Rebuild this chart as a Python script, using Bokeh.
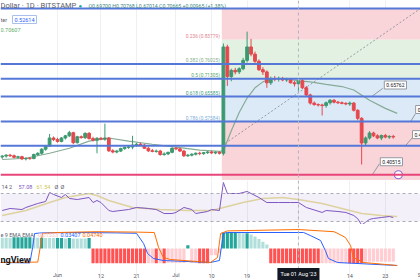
import math
from bokeh.plotting import figure
from bokeh.layouts import column
from bokeh.models import Range1d, Label, FixedTicker, Span, BoxAnnotation
from bokeh.embed import file_html
from bokeh.resources import INLINE
from bokeh.core.properties import value

FONT = "Roboto"

# ---------------- data (day 0 = 1 Jun 2023) ----------------
day = list(range(-14, 86))
open_ = [0.462, 0.465, 0.468, 0.466, 0.461, 0.463, 0.456, 0.458, 0.457, 0.470,
         0.474, 0.487, 0.497, 0.523, 0.518, 0.512, 0.523, 0.530, 0.540, 0.508,
         0.527, 0.524, 0.538, 0.521, 0.516, 0.522, 0.519, 0.523, 0.482, 0.478,
         0.481, 0.489, 0.493, 0.494, 0.500, 0.503, 0.500, 0.490, 0.482, 0.480,
         0.481, 0.470, 0.472, 0.477, 0.490, 0.488, 0.481, 0.466, 0.468, 0.471,
         0.474, 0.473, 0.476, 0.478, 0.475, 0.477, 0.474, 0.815, 0.720, 0.740,
         0.735, 0.745, 0.772, 0.815, 0.792, 0.769, 0.742, 0.735, 0.700, 0.713,
         0.712, 0.714, 0.709, 0.711, 0.700, 0.697, 0.70665, 0.684, 0.661, 0.635,
         0.630, 0.629, 0.627, 0.636, 0.644, 0.638, 0.636, 0.634, 0.632, 0.635,
         0.612, 0.586, 0.507, 0.523, 0.539, 0.530, 0.523, 0.531, 0.526, 0.528]
high = [0.468, 0.471, 0.472, 0.470, 0.466, 0.466, 0.461, 0.462, 0.473, 0.477,
        0.490, 0.500, 0.536, 0.528, 0.524, 0.526, 0.533, 0.546, 0.543, 0.530,
        0.531, 0.541, 0.542, 0.527, 0.526, 0.526, 0.569, 0.526, 0.487, 0.485,
        0.492, 0.496, 0.498, 0.530, 0.507, 0.508, 0.504, 0.495, 0.488, 0.486,
        0.485, 0.477, 0.479, 0.493, 0.495, 0.492, 0.485, 0.472, 0.474, 0.477,
        0.479, 0.478, 0.481, 0.482, 0.480, 0.480, 0.826, 0.822, 0.745, 0.748,
        0.750, 0.780, 0.864, 0.841, 0.800, 0.775, 0.750, 0.740, 0.720, 0.722,
        0.720, 0.719, 0.716, 0.714, 0.706, 0.70768, 0.712, 0.690, 0.665, 0.640,
        0.634, 0.633, 0.640, 0.648, 0.648, 0.642, 0.640, 0.638, 0.640, 0.638,
        0.615, 0.590, 0.528, 0.545, 0.543, 0.535, 0.534, 0.536, 0.532, 0.533]
low = [0.456, 0.460, 0.462, 0.458, 0.457, 0.452, 0.451, 0.453, 0.455, 0.466,
       0.470, 0.482, 0.494, 0.513, 0.508, 0.509, 0.518, 0.526, 0.503, 0.505,
       0.521, 0.520, 0.518, 0.512, 0.474, 0.516, 0.514, 0.478, 0.474, 0.474,
       0.478, 0.485, 0.488, 0.487, 0.495, 0.497, 0.488, 0.478, 0.477, 0.476,
       0.466, 0.466, 0.468, 0.474, 0.484, 0.478, 0.462, 0.462, 0.464, 0.467,
       0.468, 0.469, 0.472, 0.472, 0.471, 0.470, 0.467, 0.690, 0.705, 0.727,
       0.728, 0.740, 0.765, 0.785, 0.762, 0.738, 0.725, 0.684, 0.693, 0.705,
       0.704, 0.705, 0.703, 0.698, 0.688, 0.67014, 0.680, 0.655, 0.630, 0.627,
       0.624, 0.595, 0.620, 0.630, 0.634, 0.632, 0.631, 0.628, 0.626, 0.608,
       0.580, 0.438, 0.498, 0.518, 0.526, 0.519, 0.516, 0.522, 0.520, 0.521]
close = [0.465, 0.468, 0.466, 0.461, 0.463, 0.456, 0.458, 0.457, 0.470, 0.474,
         0.487, 0.497, 0.523, 0.518, 0.512, 0.523, 0.530, 0.540, 0.508, 0.527,
         0.524, 0.538, 0.521, 0.516, 0.522, 0.519, 0.523, 0.482, 0.478, 0.481,
         0.489, 0.493, 0.494, 0.500, 0.503, 0.500, 0.490, 0.482, 0.480, 0.481,
         0.470, 0.472, 0.477, 0.490, 0.488, 0.481, 0.466, 0.468, 0.471, 0.474,
         0.473, 0.476, 0.478, 0.475, 0.477, 0.474, 0.815, 0.720, 0.740, 0.735,
         0.745, 0.772, 0.815, 0.792, 0.769, 0.742, 0.735, 0.700, 0.713, 0.712,
         0.714, 0.709, 0.711, 0.700, 0.697, 0.70665, 0.684, 0.661, 0.635, 0.630,
         0.629, 0.627, 0.636, 0.644, 0.638, 0.636, 0.634, 0.632, 0.635, 0.612,
         0.586, 0.507, 0.523, 0.539, 0.530, 0.523, 0.531, 0.526, 0.528, 0.52614]

ma_day = [-14, -8, -2, 3, 8, 13, 18, 24, 30, 36, 41, 42, 44, 46, 48, 50, 52, 54,
          58, 61, 64, 68, 72, 75, 79, 83, 86]
ma_val = [0.454, 0.458, 0.474, 0.490, 0.513, 0.523, 0.513, 0.503, 0.494, 0.484,
          0.480, 0.482, 0.546, 0.605, 0.651, 0.684, 0.703, 0.713, 0.713, 0.70607,
          0.703, 0.695, 0.688, 0.677, 0.644, 0.618, 0.602]

fib_labels = ["0.236 (0.83779)", "0.382 (0.76025)", "0.5 (0.71305)",
              "0.618 (0.65585)", "0.786 (0.57584)"]
fib_label_prices = [0.83779, 0.76025, 0.71305, 0.65585, 0.57584]
fib_label_colors = ["#e0828c", "#7fb08a", "#5aa866", "#3f9a82", "#7fb0de"]
fib_line_prices = [0.9383, 0.76025, 0.71305, 0.65585, 0.57584, 0.4985]
zone_top = [0.9383, 0.83779, 0.71305, 0.57584]
zone_bottom = [0.83779, 0.71305, 0.57584, 0.30]
zone_colors = ["#f9d4d8", "#e3f1e2", "#dceaf8", "#f9d4d8"]
fib_start_day = 41.6
trend_day = [41.6, 91.9]
trend_price = [0.4985, 0.9383]
hline_price = 0.40515

callout_day = [79.7, 89.4, 88.1, 79.7]
callout_price = [0.65762, 0.57584, 0.49850, 0.40515]
callout_text = ["0.65762", "0", "0.4", "0.40515"]
callout_angle = [36, 58, 49, 57]
callout_len = [13, 9, 11, 13]
callout_dx = [12, 5, 7, 8]
callout_dy = [11, 12, 11, 13]
icon_day = [86.3]

rsi_day = [-14, -12, -9, -8, -5, -3, -2, -1, 1, 2, 3, 5, 8, 9, 10, 11, 13, 14, 18, 20,
           23, 25, 27, 29, 30, 32, 34, 35, 38, 39, 41, 42, 43, 46, 48, 49, 51, 53, 56,
           59, 61, 63, 67, 68, 71, 73, 75, 76, 77, 78, 79, 80, 82, 84, 85]
rsi_val = [45.7, 48.6, 47.1, 50.0, 55.7, 58.6, 71.4, 68.6, 64.3, 68.6, 62.9, 61.4,
           64.3, 57.1, 60.0, 57.1, 45.7, 44.3, 47.1, 50.0, 48.6, 47.1, 41.4, 41.4,
           42.9, 50.0, 47.1, 41.4, 44.3, 47.1, 45.7, 85.7, 70.0, 70.0, 72.9, 70.0,
           64.3, 57.1, 57.1, 57.1, 57.08, 50.0, 42.9, 45.7, 44.3, 42.9, 38.6, 34.0,
           25.0, 29.0, 33.0, 34.3, 35.7, 37.1, 35.7]
rsi_ma_day = [-14, -8, -2, 2, 8, 10, 13, 19, 26, 33, 39, 42, 47, 52, 57, 61, 67, 72,
              77, 82, 86]
rsi_ma_val = [38.6, 45.7, 57.1, 64.3, 70.0, 67.1, 60.0, 50.0, 47.1, 45.7, 45.7, 50.0,
              57.1, 62.9, 64.3, 61.54, 55.7, 48.6, 41.4, 38.6, 37.1]

macd_day = [-14.4, -7, -6.3, -5.8, -4, 5, 15, 20, 21.8, 22.8, 24.3, 26.8, 38.7, 41,
            42, 43, 62.3, 64, 66.6, 67.8, 68.6, 70.9, 86]
macd_val = [-0.035, -0.036, 0.0025, 0.0375, 0.039, 0.040, 0.039, 0.038, 0.0125,
            -0.0125, -0.025, -0.030, -0.035, -0.030, 0.038, 0.040, 0.040, 0.0325,
            0.020, -0.005, -0.025, -0.035, -0.0425]
sig_day = [-14.4, -5, -4.8, -3.8, 0, 10, 20, 24.5, 25.6, 26.8, 28.6, 38.7, 40.5, 41.3,
           43, 61, 70, 71, 72.9, 74.2, 74.9, 77.5, 86]
sig_val = [-0.035, -0.034, -0.0225, 0.0375, 0.040, 0.042, 0.041, 0.040, 0.0025,
           -0.0225, -0.0275, -0.035, -0.0225, 0.0375, 0.044, 0.0474, 0.042, 0.0375,
           0.0275, 0.0075, -0.0225, -0.035, -0.0425]
hist_val = ([0.027] * 3 + [0.028] * 5 + [0.027] * 3 + [0.026] * 5 + [0.025] + [0.026]
            + [0.025] * 4 + [0.026]
            + [-0.037] * 19 + [-0.036] * 5 + [0.008] + [-0.036] * 2 + [-0.037] * 3
            + [-0.017] * 2 + [-0.012]
            + [0.040] * 4 + [0.039, 0.038, 0.038, 0.035, 0.030, 0.024, 0.017, 0.010]
            + [-0.037] * 24 + [-0.033] * 8)
hist_kind = (["lt"] * 3 + ["dt"] * 5 + ["lt"] * 2 + ["dt"] + ["lt"] * 3 + ["dt"] * 2
             + ["lt"] + ["dt"] + ["lt"] * 4 + ["dt"]
             + ["r"] * 14 + ["p"] * 2 + ["r"] + ["p"] + ["r"] + ["p"] * 5 + ["dt"]
             + ["p"] * 2 + ["r"] * 3 + ["p"] * 3
             + ["dt"] * 4 + ["lt"] * 2 + ["dt"] + ["lt"] * 5
             + ["r"] * 13 + ["p"] * 7 + ["r"] * 4 + ["p"] * 8)

tick_days = [0, 11, 20, 30, 39, 48, 74, 83, 92]
tick_labels = ["Jun", "12", "21", "Jul", "10", "19", "14", "23", "S"]
tick_align = ["center"] * 8 + ["right"]
grid_days = [0, 11, 20, 30, 39, 48, 61, 74, 83, 92]
crosshair_day = 61
crosshair_text = "Tue 01 Aug '23"

UP, DOWN = "#3d9970", "#e5484d"
KIND_COL = {"dt": "#26a69a", "lt": "#b2dfdb", "r": "#ff5252", "p": "#ffcdd2"}

xr = Range1d(-14.43, 91.9)


def base(h, yr):
    f = figure(width=420, height=h, x_range=xr, y_range=yr, output_backend="svg",
               toolbar_location=None, min_border=0)
    f.outline_line_color = None
    f.xaxis.visible = False
    f.yaxis.visible = False
    f.xgrid.ticker = FixedTicker(ticks=grid_days)
    f.xgrid.grid_line_color = "#eef0f4"
    f.ygrid.visible = False
    f.background_fill_color = "white"
    f.border_fill_color = "white"
    return f


def lab(f, x, y, text, color="#5d606b", size="5.5px", **kw):
    f.add_layout(Label(x=x, y=y, x_units="screen", y_units="screen", text=text,
                       text_color=color, text_font_size=size, text_font=FONT,
                       text_baseline="middle", **kw))


# ---------------- price panel ----------------
p1 = base(180, Range1d(0.38667, 0.96396))
p1.quad(left=fib_start_day, right=100, bottom=zone_bottom, top=zone_top,
        fill_color=zone_colors, line_color=None)
for fp in fib_line_prices:
    p1.add_layout(Span(location=fp, dimension="width", line_color="#5577d8", line_width=2))
p1.add_layout(Span(location=hline_price, dimension="width", line_color="#e8467a", line_width=2))
p1.add_layout(Span(location=crosshair_day, dimension="height", line_color="#b0b3bd",
                   line_width=1, line_dash="3 3"))
p1.line(trend_day, trend_price, line_color="#9598a1", line_dash="2 2", line_width=1)
p1.text(x=[fib_start_day] * len(fib_labels), y=fib_label_prices, text=fib_labels,
        text_align="right", text_baseline="bottom", x_offset=-2, y_offset=-1,
        text_color=fib_label_colors, text_font_size="4.8px", text_font=value(FONT))
p1.line(ma_day, ma_val, line_color="#86ab95", line_width=1.2)

cols = [UP if c >= o else DOWN for o, c in zip(open_, close)]
p1.segment(x0=day, y0=low, x1=day, y1=high, line_color=cols, line_width=1)
p1.vbar(x=day, width=0.7, top=[max(o, c) for o, c in zip(open_, close)],
        bottom=[min(o, c) for o, c in zip(open_, close)], fill_color=cols, line_color=cols)

p1.ray(x=callout_day, y=callout_price, length=callout_len, length_units="screen",
       angle=[math.radians(a) for a in callout_angle], line_color="#9598a1", line_width=1)
for d, pr, t, dx, dy in zip(callout_day, callout_price, callout_text, callout_dx, callout_dy):
    p1.add_layout(Label(x=d, y=pr, text=t, x_offset=dx, y_offset=dy, text_font=FONT,
                        text_font_size="5px", text_color="#131722", text_baseline="middle",
                        background_fill_color="white", border_line_color="#9598a1",
                        padding=2))
p1.scatter(x=icon_day, y=[hline_price], size=8, fill_color="white",
           line_color="#8e6bd0", line_width=1.2)

lab(p1, 0, 175, "Dollar · 1D · BITSTAMP", size="7.5px")
lab(p1, 78, 175, "●", color="#26a69a", size="6px")
lab(p1, 88, 175, "O0.69700 H0.70768 L0.67014 C0.70665 +0.00965 (+1.38%)",
    color="#3f8a7c", size="5.2px")
lab(p1, 0, 161, "ter", size="5.5px")
p1.add_layout(Label(x=12, y=161, x_units="screen", y_units="screen", text="0.52614",
                    text_font=FONT, text_font_size="5.5px", text_color="#2962ff",
                    text_baseline="middle", background_fill_color="white",
                    border_line_color="#a8c0ee", padding=2))
lab(p1, 0, 151, "0.70607", color="#5fae6a", size="5.5px")

# ---------------- RSI panel ----------------
p2 = base(44, Range1d(25.71, 88.57))
p2.add_layout(BoxAnnotation(bottom=30, top=70, fill_color="#7e57c2", fill_alpha=0.09,
                            line_color=None))
for lv in (70, 30):
    p2.add_layout(Span(location=lv, dimension="width", line_color="#a9acb8",
                       line_dash="3 3", line_width=1))
p2.add_layout(Span(location=crosshair_day, dimension="height", line_color="#b0b3bd",
                   line_width=1, line_dash="3 3"))
p2.line(rsi_ma_day, rsi_ma_val, line_color="#e8df9e", line_width=1.6)
p2.line(rsi_day, rsi_val, line_color="#7e57c2", line_width=1)
lab(p2, 1, 38, "14 2", size="5.5px")
lab(p2, 18, 38, "57.08", color="#7e57c2", size="5.5px")
lab(p2, 36, 38, "61.54", color="#cfc54f", size="5.5px")
lab(p2, 54, 38, "Ø", size="5.5px")
lab(p2, 60, 38, "Ø", size="5.5px")

# ---------------- MACD panel + time scale ----------------
MACD_BOTTOM = -0.08
p3 = base(56, Range1d(MACD_BOTTOM, 0.06))
p3.add_layout(Span(location=crosshair_day, dimension="height", line_color="#b0b3bd",
                   line_width=1, line_dash="3 3"))
p3.vbar(x=day, width=0.8, top=hist_val, bottom=0,
        fill_color=[KIND_COL[k] for k in hist_kind], line_color=None)
p3.line(macd_day, macd_val, line_color="#2962ff", line_width=1)
p3.line(sig_day, sig_val, line_color="#ff6d00", line_width=1)
p3.text(x=tick_days, y=[MACD_BOTTOM] * len(tick_days), text=tick_labels,
        text_align=tick_align, text_baseline="bottom", y_offset=-3,
        text_color="#555a66", text_font_size="5.5px", text_font=value(FONT))
lab(p3, 0, 46, "e 9 EMA EMA", size="5.5px")
lab(p3, 36, 46, "-0.01333", color="#f6c5ca", size="5.5px")
lab(p3, 60, 46, "0.03407", color="#2962ff", size="5.5px")
lab(p3, 82, 46, "0.04740", color="#ff6d00", size="5.5px")
lab(p3, 0, 21, "ngView", color="#131722", size="9px", text_font_style="bold")
p3.add_layout(Label(x=crosshair_day, y=MACD_BOTTOM, y_offset=6.5, text=crosshair_text,
                    text_font=FONT, text_font_size="5.5px", text_color="white",
                    text_align="center", text_baseline="middle",
                    background_fill_color="#131722", padding=3))

layout = column(p1, p2, p3, spacing=0)
open("out.html", "w").write(file_html(layout, INLINE))
